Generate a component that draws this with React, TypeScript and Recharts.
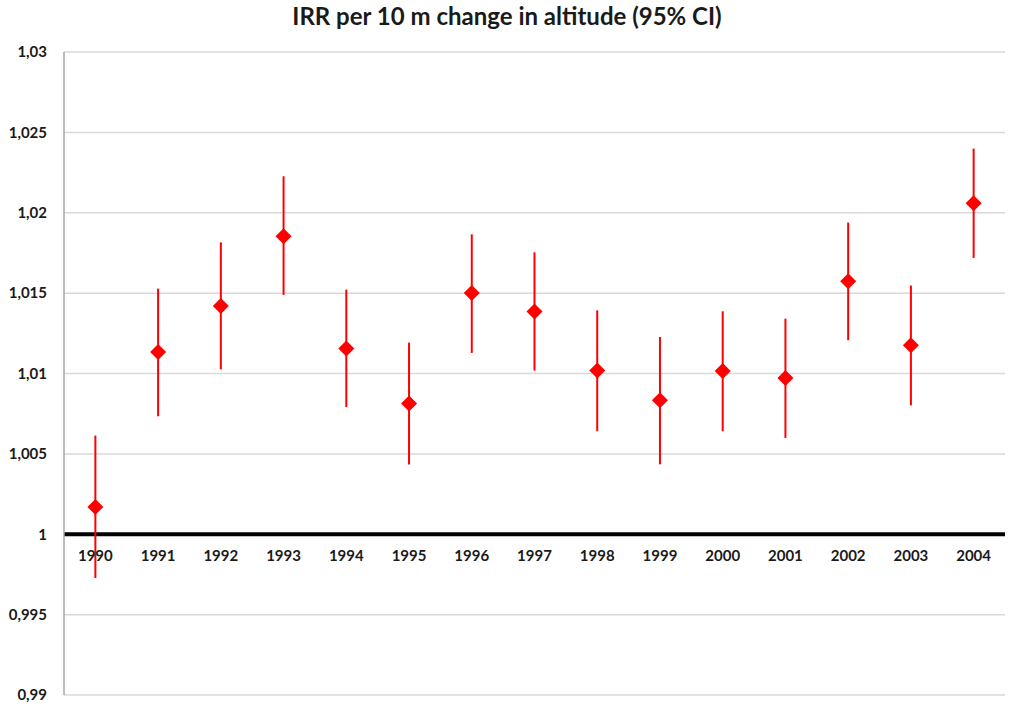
import { ComposedChart, Line, Scatter, ErrorBar, XAxis, YAxis, ReferenceLine, LabelList } from "recharts";

const YEARS = ["1990", "1991", "1992", "1993", "1994", "1995", "1996", "1997", "1998", "1999", "2000", "2001", "2002", "2003", "2004"];
const IRR = [1.0017, 1.01134, 1.0142, 1.01854, 1.01155, 1.00813, 1.01501, 1.01386, 1.01018, 1.00833, 1.01016, 1.00972, 1.01574, 1.01176, 1.02059];
const CI_LOW = [0.99728, 1.00734, 1.01026, 1.01489, 1.00792, 1.00434, 1.01128, 1.01018, 1.00641, 1.00435, 1.00641, 1.00599, 1.01207, 1.00802, 1.01719];
const CI_HIGH = [1.00614, 1.01528, 1.01816, 1.02227, 1.01522, 1.01192, 1.01866, 1.01754, 1.01393, 1.01227, 1.01387, 1.01341, 1.01939, 1.01547, 1.02399];
const Y_TICKS = [0.99, 0.995, 1, 1.005, 1.01, 1.015, 1.02, 1.025, 1.03];
const AXIS_CROSS = 1;

const data = YEARS.map((year, i) => ({
  year,
  irr: IRR[i],
  ci: [IRR[i] - CI_LOW[i], CI_HIGH[i] - IRR[i]],
  base: AXIS_CROSS,
}));

const FONT = "Lato, 'Open Sans', sans-serif";

// diamond marker like the excel one
function Diamond(props: any) {
  const { cx, cy } = props;
  if (cx == null || cy == null) return null;
  const r = 8;
  return (
    <path
      d={`M${cx},${cy - r} L${cx + r},${cy} L${cx},${cy + r} L${cx - r},${cy} Z`}
      fill="#ff0000"
    />
  );
}

// category labels sit just under the y=1 crossing line
function YearLabel(props: any) {
  const { x, y, width, height, value } = props;
  const cx = x + (width || 0) / 2;
  const cy = y + (height || 0) / 2;
  return (
    <text
      x={cx}
      y={cy + 23}
      textAnchor="middle"
      dominantBaseline="middle"
      fontFamily={FONT}
      fontWeight={700}
      fontSize={15}
      fill="#1a1a1a"
    >
      {value}
    </text>
  );
}

const fmt = (v: number) => String(Number(v.toFixed(3))).replace(".", ",");

export default function App() {
  return (
    <div style={{ position: "absolute", left: 0, top: 0, width: 1024, height: 708, background: "#fff" }}>
      <div
        style={{
          position: "absolute",
          top: 1,
          left: 0,
          width: 1014,
          textAlign: "center",
          fontFamily: FONT,
          fontWeight: 700,
          fontSize: 24,
          color: "#1a1a1a",
        }}
      >
        IRR per 10 m change in altitude (95% CI)
      </div>
      <ComposedChart
        width={1024}
        height={708}
        data={data}
        margin={{ top: 52, right: 19, bottom: 13, left: 8 }}
      >
        {/* gridlines, the one at the axis crossing is the thick black axis */}
        {Y_TICKS.map((t) => (
          <ReferenceLine
            key={t}
            y={t}
            stroke={t === AXIS_CROSS ? "#000" : "#d9d9d9"}
            strokeWidth={t === AXIS_CROSS ? 4 : 1.5}
          />
        ))}
        <XAxis dataKey="year" type="category" scale="band" hide />
        <YAxis
          domain={[0.99, 1.03]}
          ticks={Y_TICKS}
          interval={0}
          width={56}
          tickFormatter={fmt}
          axisLine={{ stroke: "#a6a6a6", strokeWidth: 1.5 }}
          tickLine={false}
          tickSize={0}
          tickMargin={17}
          tick={{ fill: "#1a1a1a", fontSize: 15, fontWeight: 700, fontFamily: FONT }}
          allowDataOverflow
        />
        <Scatter dataKey="base" shape={() => <g />} isAnimationActive={false}>
          <LabelList dataKey="year" content={<YearLabel />} />
        </Scatter>
        <Line
          dataKey="irr"
          stroke="none"
          dot={<Diamond />}
          activeDot={false}
          isAnimationActive={false}
        >
          <ErrorBar dataKey="ci" width={0} stroke="#ff0000" strokeWidth={2} direction="y" />
        </Line>
      </ComposedChart>
    </div>
  );
}
